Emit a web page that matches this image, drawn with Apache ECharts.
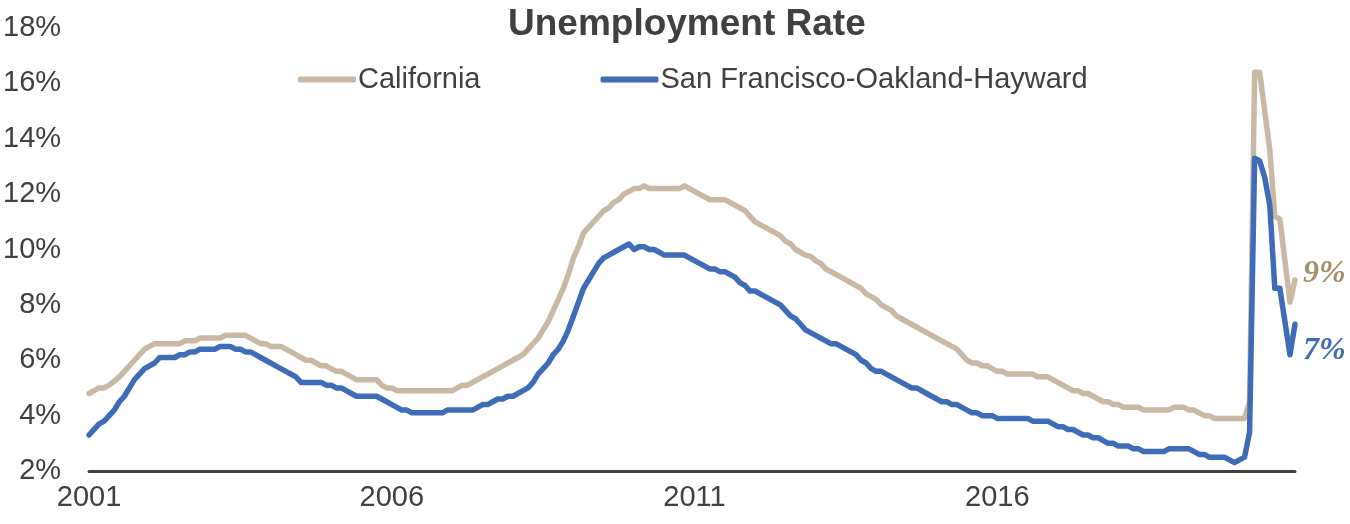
<!DOCTYPE html>
<html>
<head>
<meta charset="utf-8">
<title>Unemployment Rate</title>
<script src="https://cdn.jsdelivr.net/npm/echarts@6/dist/echarts.min.js"></script>
<style>
  html, body { margin: 0; padding: 0; background: #ffffff; }
  #chart { width: 1350px; height: 524px; }
</style>
</head>
<body>
<div id="chart"></div>
<script>
// Years covered by the monthly series (January 2001 – December 2020)
const years = [2001, 2002, 2003, 2004, 2005, 2006, 2007, 2008, 2009, 2010,
               2011, 2012, 2013, 2014, 2015, 2016, 2017, 2018, 2019, 2020];

// Years that get a tick label on the horizontal axis
const labelYears = ['2001', '2006', '2011', '2016'];

// Percent tick labels on the vertical axis
const rateTicks = [2, 4, 6, 8, 10, 12, 14, 16, 18];

// California unemployment rate, %, one row per year (Jan..Dec)
const californiaRate = [
  4.8, 4.9, 5.0, 5.0, 5.1, 5.25, 5.4, 5.6, 5.8, 6.0, 6.2, 6.4,
  6.5, 6.6, 6.6, 6.6, 6.6, 6.6, 6.6, 6.7, 6.7, 6.7, 6.8, 6.8,
  6.8, 6.8, 6.8, 6.9, 6.9, 6.9, 6.9, 6.9, 6.8, 6.7, 6.6, 6.6,
  6.5, 6.5, 6.5, 6.4, 6.3, 6.2, 6.1, 6.0, 6.0, 5.9, 5.8, 5.8,
  5.7, 5.6, 5.6, 5.5, 5.4, 5.3, 5.3, 5.3, 5.3, 5.3, 5.1, 5.0,
  5.0, 4.9, 4.9, 4.9, 4.9, 4.9, 4.9, 4.9, 4.9, 4.9, 4.9, 4.9,
  4.9, 5.0, 5.1, 5.1, 5.2, 5.3, 5.4, 5.5, 5.6, 5.7, 5.8, 5.9,
  6.0, 6.1, 6.2, 6.4, 6.6, 6.8, 7.1, 7.4, 7.8, 8.2, 8.6, 9.1,
  9.7, 10.1, 10.6, 10.8, 11.0, 11.2, 11.4, 11.5, 11.7, 11.8, 12.0, 12.1,
  12.2, 12.2, 12.3, 12.2, 12.2, 12.2, 12.2, 12.2, 12.2, 12.2, 12.3, 12.2,
  12.1, 12.0, 11.9, 11.8, 11.8, 11.8, 11.8, 11.7, 11.6, 11.5, 11.4, 11.2,
  11.0, 10.9, 10.8, 10.7, 10.6, 10.5, 10.3, 10.2, 10.0, 9.9, 9.8, 9.75,
  9.6, 9.5, 9.3, 9.2, 9.1, 9.0, 8.9, 8.8, 8.7, 8.6, 8.4, 8.3,
  8.2, 8.0, 7.9, 7.8, 7.6, 7.5, 7.4, 7.3, 7.2, 7.1, 7.0, 6.9,
  6.8, 6.7, 6.6, 6.5, 6.4, 6.2, 6.0, 5.9, 5.9, 5.8, 5.8, 5.7,
  5.6, 5.6, 5.5, 5.5, 5.5, 5.5, 5.5, 5.5, 5.4, 5.4, 5.4, 5.3,
  5.2, 5.1, 5.0, 4.9, 4.9, 4.8, 4.8, 4.7, 4.6, 4.5, 4.5, 4.4,
  4.4, 4.3, 4.3, 4.3, 4.3, 4.2, 4.2, 4.2, 4.2, 4.2, 4.2, 4.3,
  4.3, 4.3, 4.2, 4.2, 4.1, 4.0, 4.0, 3.9, 3.9, 3.9, 3.9, 3.9,
  3.9, 3.9, 4.5, 16.4, 16.4, 15.0, 13.6, 11.2, 11.1, 9.6, 8.1, 8.9
];

// San Francisco-Oakland-Hayward unemployment rate, %, one row per year (Jan..Dec)
const sfBayRate = [
  3.3, 3.5, 3.7, 3.8, 4.0, 4.2, 4.5, 4.7, 5.0, 5.3, 5.5, 5.7,
  5.8, 5.9, 6.1, 6.1, 6.1, 6.1, 6.2, 6.2, 6.3, 6.3, 6.4, 6.4,
  6.4, 6.4, 6.5, 6.5, 6.5, 6.4, 6.4, 6.3, 6.3, 6.2, 6.1, 6.0,
  5.9, 5.8, 5.7, 5.6, 5.5, 5.4, 5.2, 5.2, 5.2, 5.2, 5.2, 5.1,
  5.1, 5.0, 5.0, 4.9, 4.8, 4.7, 4.7, 4.7, 4.7, 4.7, 4.6, 4.5,
  4.4, 4.3, 4.2, 4.2, 4.1, 4.1, 4.1, 4.1, 4.1, 4.1, 4.1, 4.2,
  4.2, 4.2, 4.2, 4.2, 4.2, 4.3, 4.4, 4.4, 4.5, 4.6, 4.6, 4.7,
  4.7, 4.8, 4.9, 5.0, 5.2, 5.5, 5.7, 5.9, 6.2, 6.4, 6.7, 7.1,
  7.6, 8.1, 8.6, 8.9, 9.2, 9.5, 9.7, 9.8, 9.9, 10.0, 10.1, 10.2,
  10.0, 10.1, 10.1, 10.0, 10.0, 9.9, 9.8, 9.8, 9.8, 9.8, 9.8, 9.7,
  9.6, 9.5, 9.4, 9.3, 9.3, 9.2, 9.2, 9.1, 9.0, 8.8, 8.7, 8.5,
  8.5, 8.4, 8.3, 8.2, 8.1, 8.0, 7.8, 7.6, 7.5, 7.3, 7.1, 7.0,
  6.9, 6.8, 6.7, 6.6, 6.6, 6.5, 6.4, 6.3, 6.2, 6.0, 5.9, 5.7,
  5.6, 5.6, 5.5, 5.4, 5.3, 5.2, 5.1, 5.0, 5.0, 4.9, 4.8, 4.7,
  4.6, 4.5, 4.5, 4.4, 4.4, 4.3, 4.2, 4.1, 4.1, 4.0, 4.0, 4.0,
  3.9, 3.9, 3.9, 3.9, 3.9, 3.9, 3.9, 3.8, 3.8, 3.8, 3.8, 3.7,
  3.6, 3.6, 3.5, 3.5, 3.4, 3.3, 3.3, 3.2, 3.2, 3.1, 3.0, 3.0,
  2.9, 2.9, 2.9, 2.8, 2.8, 2.7, 2.7, 2.7, 2.7, 2.7, 2.8, 2.8,
  2.8, 2.8, 2.8, 2.7, 2.6, 2.6, 2.5, 2.5, 2.5, 2.5, 2.4, 2.3,
  2.4, 2.5, 3.4, 13.3, 13.2, 12.6, 11.6, 8.6, 8.6, 7.4, 6.2, 7.3
];

// Monthly category labels "YYYY-MM"
const months = [];
years.forEach(function (y) {
  for (let m = 1; m <= 12; m++) {
    months.push(y + '-' + (m < 10 ? '0' + m : m));
  }
});

const TEXT = '#404040';
const TAN = '#C9B9A4';
const TAN_LABEL = '#A88F6C';
const BLUE = '#3E6CB6';
const SANS = '"Liberation Sans", Arial, sans-serif';
const SERIF = '"Liberation Serif", "DejaVu Serif", serif';

const chart = echarts.init(document.getElementById('chart'), null, { renderer: 'canvas' });

chart.setOption({
  animation: false,
  backgroundColor: '#ffffff',
  title: {
    text: 'Unemployment Rate',
    left: 503,
    top: 1,
    textStyle: { fontFamily: SANS, fontSize: 37, fontWeight: 'bold', color: TEXT }
  },
  legend: {
    left: 293,
    top: 60,
    icon: 'roundRect',
    itemWidth: 58,
    itemHeight: 6,
    itemGap: 120,
    textStyle: { fontFamily: SANS, fontSize: 29, color: TEXT, padding: [0, 0, 0, -3] },
    data: ['California', 'San Francisco-Oakland-Hayward']
  },
  grid: { left: 88, right: 55, top: 28, bottom: 53, containLabel: false },
  xAxis: {
    type: 'category',
    data: months,
    boundaryGap: false,
    axisLine: { show: true, lineStyle: { color: TEXT, width: 3 } },
    axisTick: { show: false },
    splitLine: { show: false },
    axisLabel: {
      interval: 0,
      margin: 12,
      fontFamily: SANS,
      fontSize: 29,
      color: TEXT,
      formatter: function (value) {
        const y = value.slice(0, 4);
        return (value.slice(5) === '01' && labelYears.indexOf(y) >= 0) ? y : '';
      }
    }
  },
  yAxis: {
    type: 'value',
    min: rateTicks[0],
    max: rateTicks[rateTicks.length - 1],
    interval: 2,
    axisLine: { show: false },
    axisTick: { show: false },
    splitLine: { show: false },
    axisLabel: {
      margin: 28,
      fontFamily: SANS,
      fontSize: 29,
      color: TEXT,
      formatter: '{value}%'
    }
  },
  series: [
    {
      name: 'California',
      type: 'line',
      data: californiaRate,
      showSymbol: false,
      color: TAN,
      lineStyle: { color: TAN, width: 5.5, cap: 'round', join: 'round' },
      endLabel: {
        show: true,
        offset: [0, -6],
        formatter: function (p) { return Math.round(p.value) + '%'; },
        fontFamily: SERIF,
        fontStyle: 'italic',
        fontWeight: 'bold',
        fontSize: 32,
        color: TAN_LABEL
      },
      z: 2
    },
    {
      name: 'San Francisco-Oakland-Hayward',
      type: 'line',
      data: sfBayRate,
      showSymbol: false,
      color: BLUE,
      lineStyle: { color: BLUE, width: 5.5, cap: 'round', join: 'round' },
      endLabel: {
        show: true,
        offset: [0, 26],
        formatter: function (p) { return Math.round(p.value) + '%'; },
        fontFamily: SERIF,
        fontStyle: 'italic',
        fontWeight: 'bold',
        fontSize: 32,
        color: BLUE
      },
      z: 3
    }
  ]
});
</script>
</body>
</html>
